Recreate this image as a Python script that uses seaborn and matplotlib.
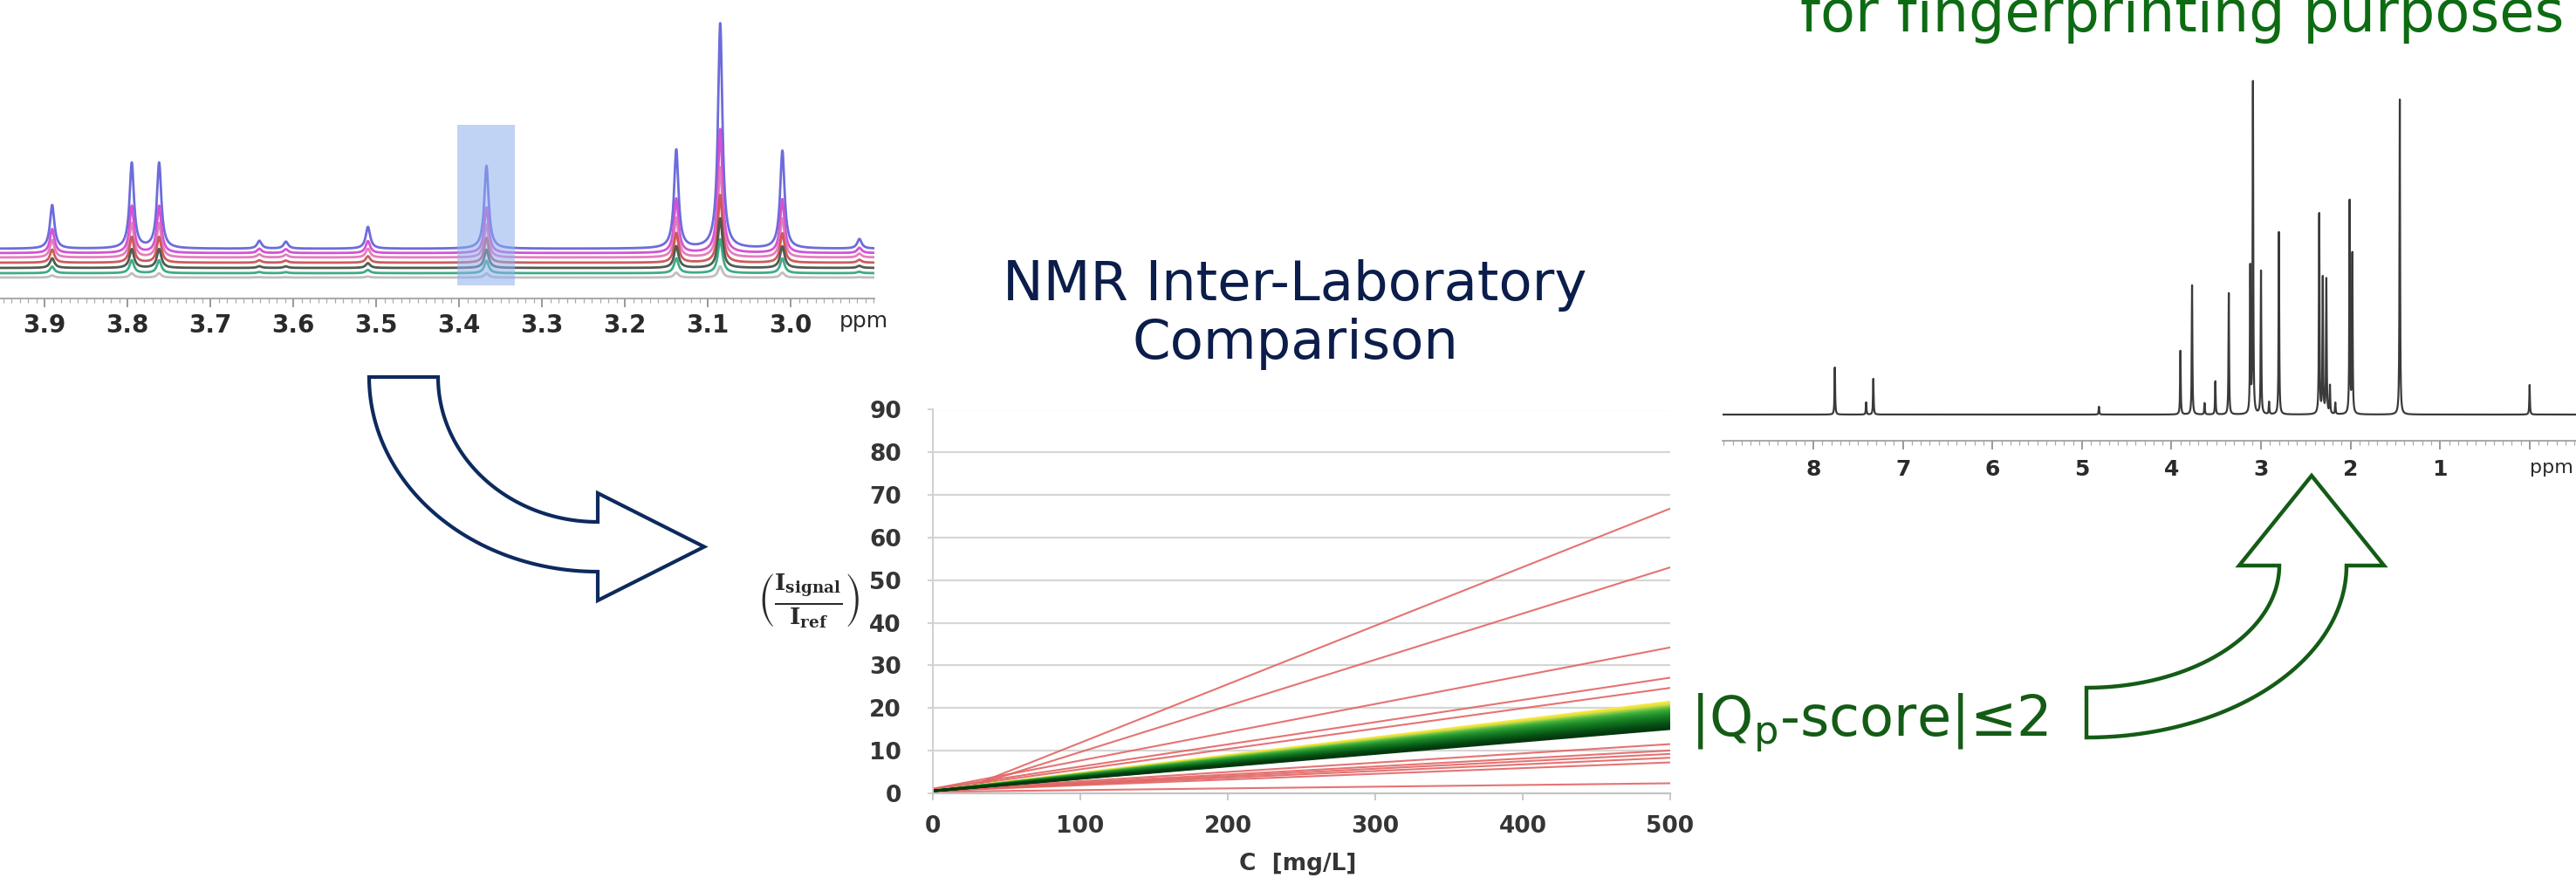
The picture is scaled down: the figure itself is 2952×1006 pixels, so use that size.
import numpy as np
import pandas as pd
import matplotlib
matplotlib.use("Agg")
import matplotlib.pyplot as plt
import seaborn as sns
from matplotlib.patches import Polygon, Rectangle
from matplotlib.transforms import Affine2D
from matplotlib.ticker import MultipleLocator, FixedLocator

# ---------------- data ----------------
# left: overlaid 1H spectra (zoom 3.95 - 2.90 ppm)
left_ticks = [3.9, 3.8, 3.7, 3.6, 3.5, 3.4, 3.3, 3.2, 3.1, 3.0]
left_peak_ppm = [3.891, 3.795, 3.762, 3.641, 3.609, 3.510, 3.367, 3.138, 3.085, 3.010, 2.917]
left_peak_height = [50, 98, 98, 9, 8, 25, 95, 113, 258, 112, 11]
left_trace_scale = [1.0, 0.55, 0.40, 0.30, 0.22, 0.15, 0.05]
left_trace_offset = [57, 52, 47, 41, 35, 29, 24]
left_trace_color = ["#5c5cd8", "#d040d0", "#e070b8", "#c84a4a", "#3e4a3e", "#2aa37a", "#b8b8b8"]
highlight_ppm = [3.402, 3.333]

# centre: calibration lines  I_signal/I_ref vs C
conc_range = [0, 500]
red_x0 = [25, 25, 0, 0, 0, 0, 0, 0, 0, 0, 0]
red_y0 = [1.5, 1.5, 1.0, 1.0, 0.8, 0.6, 0.6, 0.5, 0.5, 0.5, 0.3]
red_end = [66.8, 53.0, 34.2, 27.1, 24.7, 11.5, 10.0, 9.2, 8.3, 7.2, 2.3]
band_y0 = 0.5
band_end = [21.4, 21.1, 20.8, 20.5, 20.2, 19.9, 19.6, 19.3, 19.0, 18.7, 18.4,
            18.1, 17.8, 17.5, 17.2, 16.9, 16.6, 16.3, 16.0, 15.7, 15.4, 15.1]
band_color = ["#f6ea48", "#f0e23c", "#d8e040", "#b0d444", "#86c848", "#60bc40",
              "#48b03c", "#38a636", "#2e9c32", "#26922e", "#1e8a2a", "#188226",
              "#147a22", "#10721e", "#0e6a1c", "#0c621a", "#0a5a18", "#085016",
              "#074a14", "#064412", "#053e10", "#04380e"]
y_ticks = [0, 10, 20, 30, 40, 50, 60, 70, 80, 90]
x_ticks = [0, 100, 200, 300, 400, 500]

# right: full 1H fingerprint spectrum
right_ticks = [8, 7, 6, 5, 4, 3, 2, 1]
right_peak_ppm = [7.76, 7.41, 7.33, 4.81, 3.90, 3.77, 3.63, 3.51, 3.36, 3.12, 3.09,
                  3.00, 2.91, 2.80, 2.35, 2.31, 2.27, 2.23, 2.17, 2.01, 1.98, 1.45, 0.00]
right_peak_height = [54, 14, 41, 9, 73, 148, 13, 38, 139, 166, 379,
                     164, 14, 209, 229, 155, 154, 32, 13, 243, 182, 361, 34]

# ---------------- figure ----------------
W, H = 2952, 1006
sns.set_theme(style="white")
plt.rcParams["font.family"] = ["DejaVu Sans"]
plt.rcParams["mathtext.fontset"] = "dejavuserif"

fig = plt.figure(figsize=(W / 100, H / 100), dpi=100)
fig.patch.set_facecolor("white")
pxT = Affine2D().scale(1 / W, -1 / H).translate(0, 1) + fig.transFigure


def add_ax(left, top, right, bottom):
    return fig.add_axes([left / W, 1 - bottom / H, (right - left) / W, (bottom - top) / H])


def lorentz_sum(grid, centers, heights, hwhm):
    g = np.asarray(grid)[:, None]
    c = np.asarray(centers)[None, :]
    h = np.asarray(heights)[None, :]
    return (h * hwhm ** 2 / ((g - c) ** 2 + hwhm ** 2)).sum(axis=1)


# ---------- left spectrum ----------
ax1 = add_ax(0, 0, 1002, 342)
ax1.set_facecolor("none")
grid1 = np.linspace(2.899, 3.954, 5000)
rows = []
for i, (sc, off) in enumerate(zip(left_trace_scale, left_trace_offset)):
    inten = off + sc * lorentz_sum(grid1, left_peak_ppm, left_peak_height, 0.0032)
    rows.append(pd.DataFrame({"ppm": grid1, "I": inten, "trace": f"t{i}"}))
df1 = pd.concat(rows)
sns.lineplot(data=df1, x="ppm", y="I", hue="trace",
             palette=dict(zip([f"t{i}" for i in range(len(left_trace_color))], left_trace_color)),
             estimator=None, sort=False, legend=False, linewidth=2.0, alpha=0.9, ax=ax1)
ax1.add_patch(Rectangle((highlight_ppm[0], 15), highlight_ppm[1] - highlight_ppm[0], 184,
                        facecolor="#8fb0ee", alpha=0.55, edgecolor="none", zorder=5))
ax1.set_xlim(3.954, 2.899)
ax1.set_ylim(0, 342)
for s in ["top", "left", "right"]:
    ax1.spines[s].set_visible(False)
ax1.spines["bottom"].set_color("#9a9a9a")
ax1.spines["bottom"].set_linewidth(1.2)
ax1.xaxis.set_major_locator(FixedLocator(left_ticks))
ax1.xaxis.set_minor_locator(MultipleLocator(0.01))
ax1.set_xticklabels([f"{t:.1f}" for t in left_ticks])
ax1.tick_params(axis="x", which="major", bottom=True, length=7, width=1.2, color="#888888",
                labelsize=20, labelcolor="#2a2a2a", pad=5)
ax1.tick_params(axis="x", which="minor", bottom=True, length=3.5, width=0.9, color="#aaaaaa")
for lbl in ax1.get_xticklabels():
    lbl.set_fontweight("bold")
ax1.set_yticks([])
ax1.set_xlabel("")
ax1.set_ylabel("")
fig.text(990, 368, "ppm", transform=pxT, ha="center", va="center", fontsize=18, color="#2a2a2a")

# ---------- centre calibration chart ----------
ax2 = add_ax(1069, 469.5, 1914, 908.7)
ax2.set_facecolor("none")
red_rows = []
for i in range(len(red_end)):
    red_rows.append(pd.DataFrame({"C": [red_x0[i], conc_range[1]],
                                  "ratio": [red_y0[i], red_end[i]], "lab": f"r{i}"}))
df_red = pd.concat(red_rows)
band_rows = []
for i in range(len(band_end)):
    band_rows.append(pd.DataFrame({"C": conc_range, "ratio": [band_y0, band_end[i]], "lab": f"b{i}"}))
df_band = pd.concat(band_rows)
ax2.set_axisbelow(True)
ax2.yaxis.grid(True, color="#d6d6d6", linewidth=1.6)
ax2.xaxis.grid(False)
sns.lineplot(data=df_red, x="C", y="ratio", hue="lab",
             palette={f"r{i}": "#e36464" for i in range(len(red_end))},
             estimator=None, sort=False, legend=False, linewidth=1.5, alpha=0.9, ax=ax2)
sns.lineplot(data=df_band, x="C", y="ratio", hue="lab",
             palette={f"b{i}": c for i, c in enumerate(band_color)},
             estimator=None, sort=False, legend=False, linewidth=2.0, ax=ax2)
ax2.set_xlim(0, 500)
ax2.set_ylim(0, 90)
ax2.set_xticks(x_ticks)
ax2.set_yticks(y_ticks)
for s in ["top", "right"]:
    ax2.spines[s].set_visible(False)
ax2.spines["left"].set_color("#cfcfcf")
ax2.spines["bottom"].set_color("#c4c4c4")
ax2.spines["left"].set_linewidth(1.4)
ax2.spines["bottom"].set_linewidth(1.6)
ax2.tick_params(axis="x", bottom=True, length=6, width=1.3, color="#c4c4c4",
                labelsize=19, labelcolor="#353535", pad=12)
ax2.tick_params(axis="y", left=True, length=4, width=1.3, color="#cfcfcf",
                labelsize=19, labelcolor="#353535", pad=22)
ax2.set_xlabel("")
ax2.set_ylabel("")
for lbl in ax2.get_xticklabels() + ax2.get_yticklabels():
    lbl.set_fontweight("semibold")
fig.text(1487, 990, "C  [mg/L]", transform=pxT, ha="center", va="center",
         fontsize=19, color="#353535", fontweight="semibold")
fig.text(927, 688, r"$\left(\frac{\mathbf{I}_{\mathbf{signal}}}{\mathbf{I}_{\mathbf{ref}}}\right)$",
         transform=pxT, ha="center", va="center", fontsize=27, color="#2a2a2a")
fig.text(1484, 327, "NMR Inter-Laboratory", transform=pxT, ha="center", va="center",
         fontsize=45, color="#0b1d4a")
fig.text(1484, 394, "Comparison", transform=pxT, ha="center", va="center",
         fontsize=45, color="#0b1d4a")

# ---------- right spectrum ----------
ax3 = add_ax(1974, 60, 2952, 505)
ax3.set_facecolor("none")
grid3 = np.arange(-0.518, 9.014, 0.0005)
df3 = pd.DataFrame({"ppm": grid3,
                    "I": 30 + lorentz_sum(grid3, right_peak_ppm, right_peak_height, 0.004)})
sns.lineplot(data=df3, x="ppm", y="I", estimator=None, sort=False, color="#3a3a3a",
             linewidth=1.6, ax=ax3)
ax3.set_xlim(9.014, -0.518)
ax3.set_ylim(0, 445)
for s in ["top", "left", "right"]:
    ax3.spines[s].set_visible(False)
ax3.spines["bottom"].set_color("#9a9a9a")
ax3.spines["bottom"].set_linewidth(1.2)
ax3.xaxis.set_major_locator(FixedLocator(right_ticks + [0]))
ax3.set_xticklabels([str(t) for t in right_ticks] + [""])
ax3.xaxis.set_minor_locator(MultipleLocator(0.1))
ax3.tick_params(axis="x", which="major", bottom=True, length=7, width=1.2, color="#888888",
                labelsize=18, labelcolor="#2a2a2a", pad=8)
ax3.tick_params(axis="x", which="minor", bottom=True, length=3.5, width=0.9, color="#aaaaaa")
for lbl in ax3.get_xticklabels():
    lbl.set_fontweight("bold")
ax3.set_yticks([])
ax3.set_xlabel("")
ax3.set_ylabel("")
fig.text(2924, 536, "ppm", transform=pxT, ha="center", va="center", fontsize=16, color="#2a2a2a")
fig.text(2501, 36, "for fingerprinting purposes", transform=pxT, ha="center", va="baseline",
         fontsize=47, color="#0d6b12")

# ---------- Qp text ----------
fig.text(1937, 843, "|Q$_\\mathregular{p}$-score|≤2", transform=pxT, ha="left", va="baseline",
         fontsize=46, color="#145c16")

# ---------- arrows (decoration) ----------
def ellipse_arc(cx, cy, rx, ry, t0, t1, n=60):
    t = np.linspace(t0, t1, n)
    return list(zip(cx + rx * np.cos(t), cy + ry * np.sin(t)))

# navy arrow (down then right)
cx, cy = 685, 432
pts = [(423, 432), (502, 432)]
pts += ellipse_arc(cx, cy, 183, 166, np.pi, np.pi / 2)
pts += [(685, 565), (807, 626.5), (685, 688)]
pts += ellipse_arc(cx, cy, 262, 223, np.pi / 2, np.pi)
fig.add_artist(Polygon(pts, closed=True, transform=pxT, facecolor="white",
                       edgecolor="#0d2a5e", linewidth=3.0, joinstyle="miter"))

# green arrow (right then up)
cx, cy = 2391, 648
pts = [(2391, 788), (2391, 845)]
pts += ellipse_arc(cx, cy, 298, 197, np.pi / 2, 0)
pts += [(2732, 648), (2649, 545), (2566, 648)]
pts += ellipse_arc(cx, cy, 221, 140, 0, np.pi / 2)
fig.add_artist(Polygon(pts, closed=True, transform=pxT, facecolor="white",
                       edgecolor="#145c16", linewidth=3.2, joinstyle="miter"))

fig.savefig("out.png", dpi=100, facecolor="white")
